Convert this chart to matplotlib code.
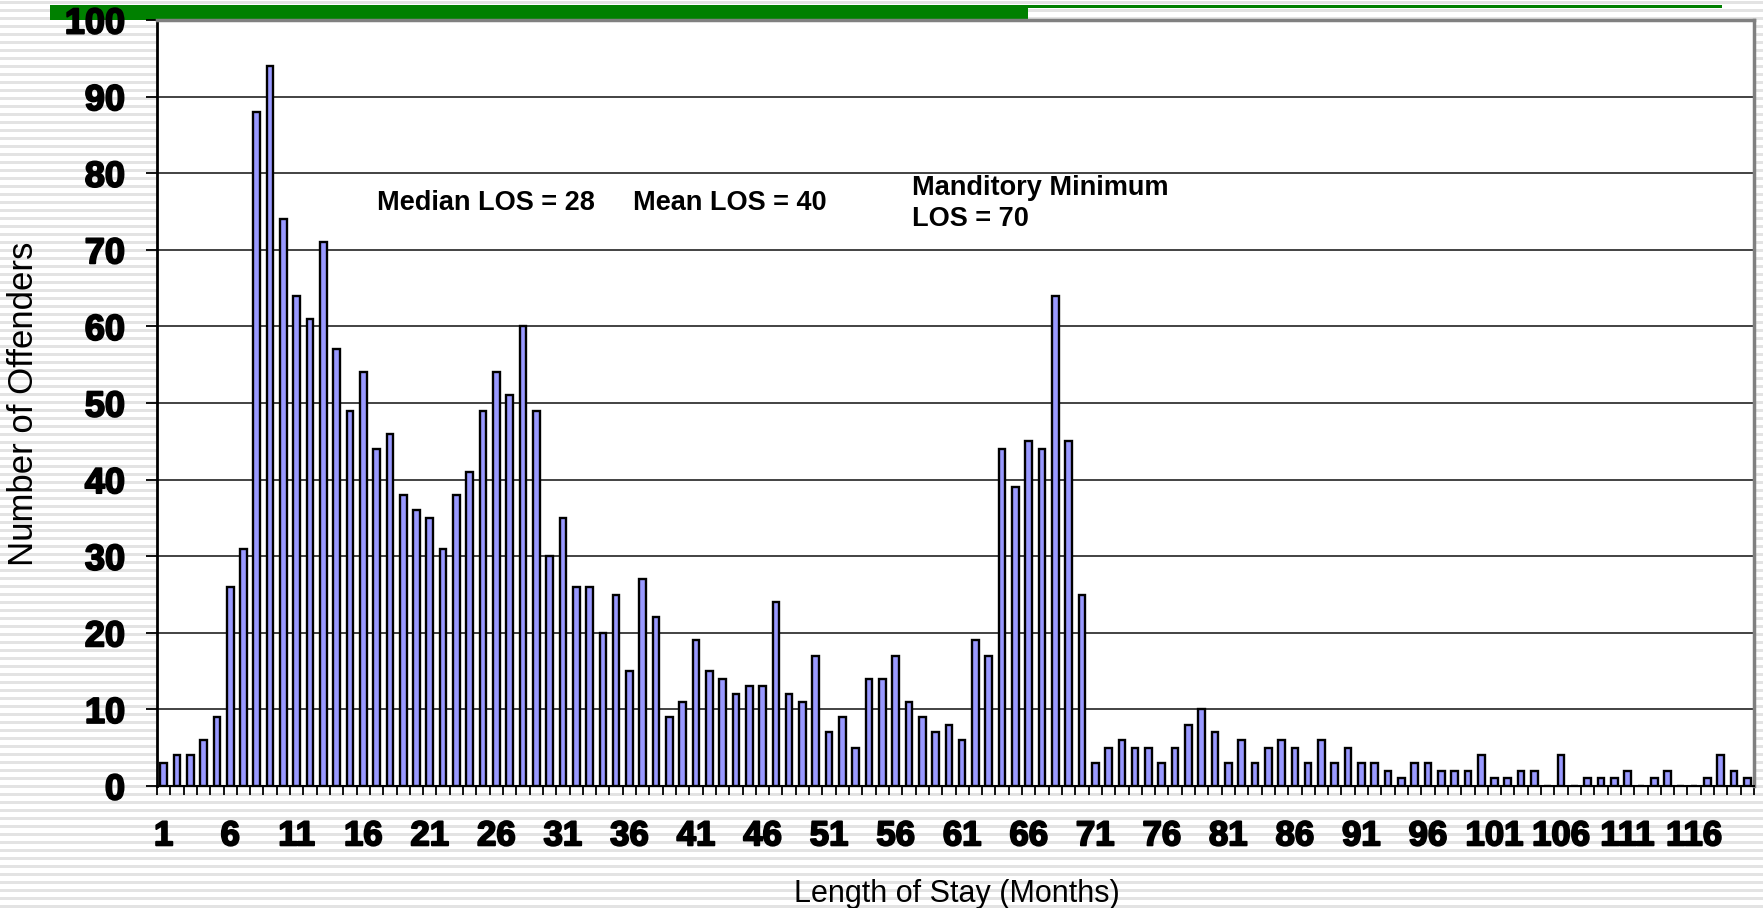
import numpy as np
import matplotlib; matplotlib.use("Agg")
import matplotlib.pyplot as plt
import matplotlib.patheffects as pe
from matplotlib.patches import Rectangle

# months of stay 1..120 and offender counts
months = list(range(1, 121))
offenders = [3, 4, 4, 6, 9, 26, 31, 88, 94, 74,
             64, 61, 71, 57, 49, 54, 44, 46, 38, 36,
             35, 31, 38, 41, 49, 54, 51, 60, 49, 30,
             35, 26, 26, 20, 25, 15, 27, 22, 9, 11,
             19, 15, 14, 12, 13, 13, 24, 12, 11, 17,
             7, 9, 5, 14, 14, 17, 11, 9, 7, 8,
             6, 19, 17, 44, 39, 45, 44, 64, 45, 25,
             3, 5, 6, 5, 5, 3, 5, 8, 10, 7,
             3, 6, 3, 5, 6, 5, 3, 6, 3, 5,
             3, 3, 2, 1, 3, 3, 2, 2, 2, 4,
             1, 1, 2, 2, 0, 4, 0, 1, 1, 1,
             2, 0, 1, 2, 0, 0, 1, 4, 2, 1]
xtick_months = list(range(1, 120, 5))
yticks = list(range(0, 101, 10))

W, H = 1763, 908
fig = plt.figure(figsize=(W/100, H/100), dpi=100)

# striped slide background + green header bar
bg = fig.add_axes([0, 0, 1, 1], zorder=-5)
bg.set_xlim(0, W); bg.set_ylim(0, H); bg.axis("off")
for y in range(0, H, 8):
    bg.axhspan(y, y+3, color="#e3e3e3", lw=0)
bg.add_patch(Rectangle((50, H-20), 978, 15, color="#008000", lw=0))
bg.add_patch(Rectangle((1028, H-8), 694, 3, color="#008000", lw=0))

ax = fig.add_axes([157/W, (H-786)/H, (1754-157)/W, (786-20)/H])
ax.set_facecolor("white")
ax.bar(months, offenders, width=0.5, color="#9999ff", edgecolor="black", lw=1.7, zorder=3)

ax.set_xlim(0.5, 120.5); ax.set_ylim(0, 100)
ax.set_yticks(yticks)
ax.yaxis.grid(True, color="#222222", lw=1.2, zorder=0)
ax.set_xticks(xtick_months)
ax.set_xticks(np.arange(0.5, 121, 1), minor=True)
ax.tick_params(axis="x", which="major", length=0, pad=24)
ax.tick_params(axis="x", which="minor", length=6.5, width=1.3, color="black")
ax.tick_params(axis="y", length=8, width=1.3, pad=15)

tfx = dict(family="Liberation Sans", weight="bold", size=25)
tfy = dict(family="Liberation Sans", weight="bold", size=26)
ax.set_xticklabels([str(m) for m in xtick_months], **tfx)
ax.set_yticklabels([str(v) for v in yticks], **tfy)
for t in ax.get_xticklabels() + ax.get_yticklabels():
    t.set_path_effects([pe.withStroke(linewidth=1.4, foreground="black")])

for s in ["top", "right"]:
    ax.spines[s].set_color("#808080"); ax.spines[s].set_linewidth(2.5)
ax.spines["left"].set_color("black"); ax.spines["left"].set_linewidth(2)
ax.spines["bottom"].set_color("black"); ax.spines["bottom"].set_linewidth(1.5)

af = dict(family="Liberation Sans", weight="bold", size=19.5, va="center", ha="left")
ax.text(17.0, 76.1, "Median LOS = 28", **af)
ax.text(36.3, 76.1, "Mean LOS = 40", **af)
ax.text(57.2, 76.0, "Manditory Minimum\nLOS = 70", linespacing=1.25, **af)

fig.text(957/W, (H-902)/H, "Length of Stay (Months)", family="Liberation Sans",
         size=22, ha="center", va="baseline")
fig.text(24/W, (H-404)/H, "Number of Offenders", family="Liberation Sans",
         size=25, rotation=90, ha="center", va="center")

fig.savefig("out.png", dpi=100)
